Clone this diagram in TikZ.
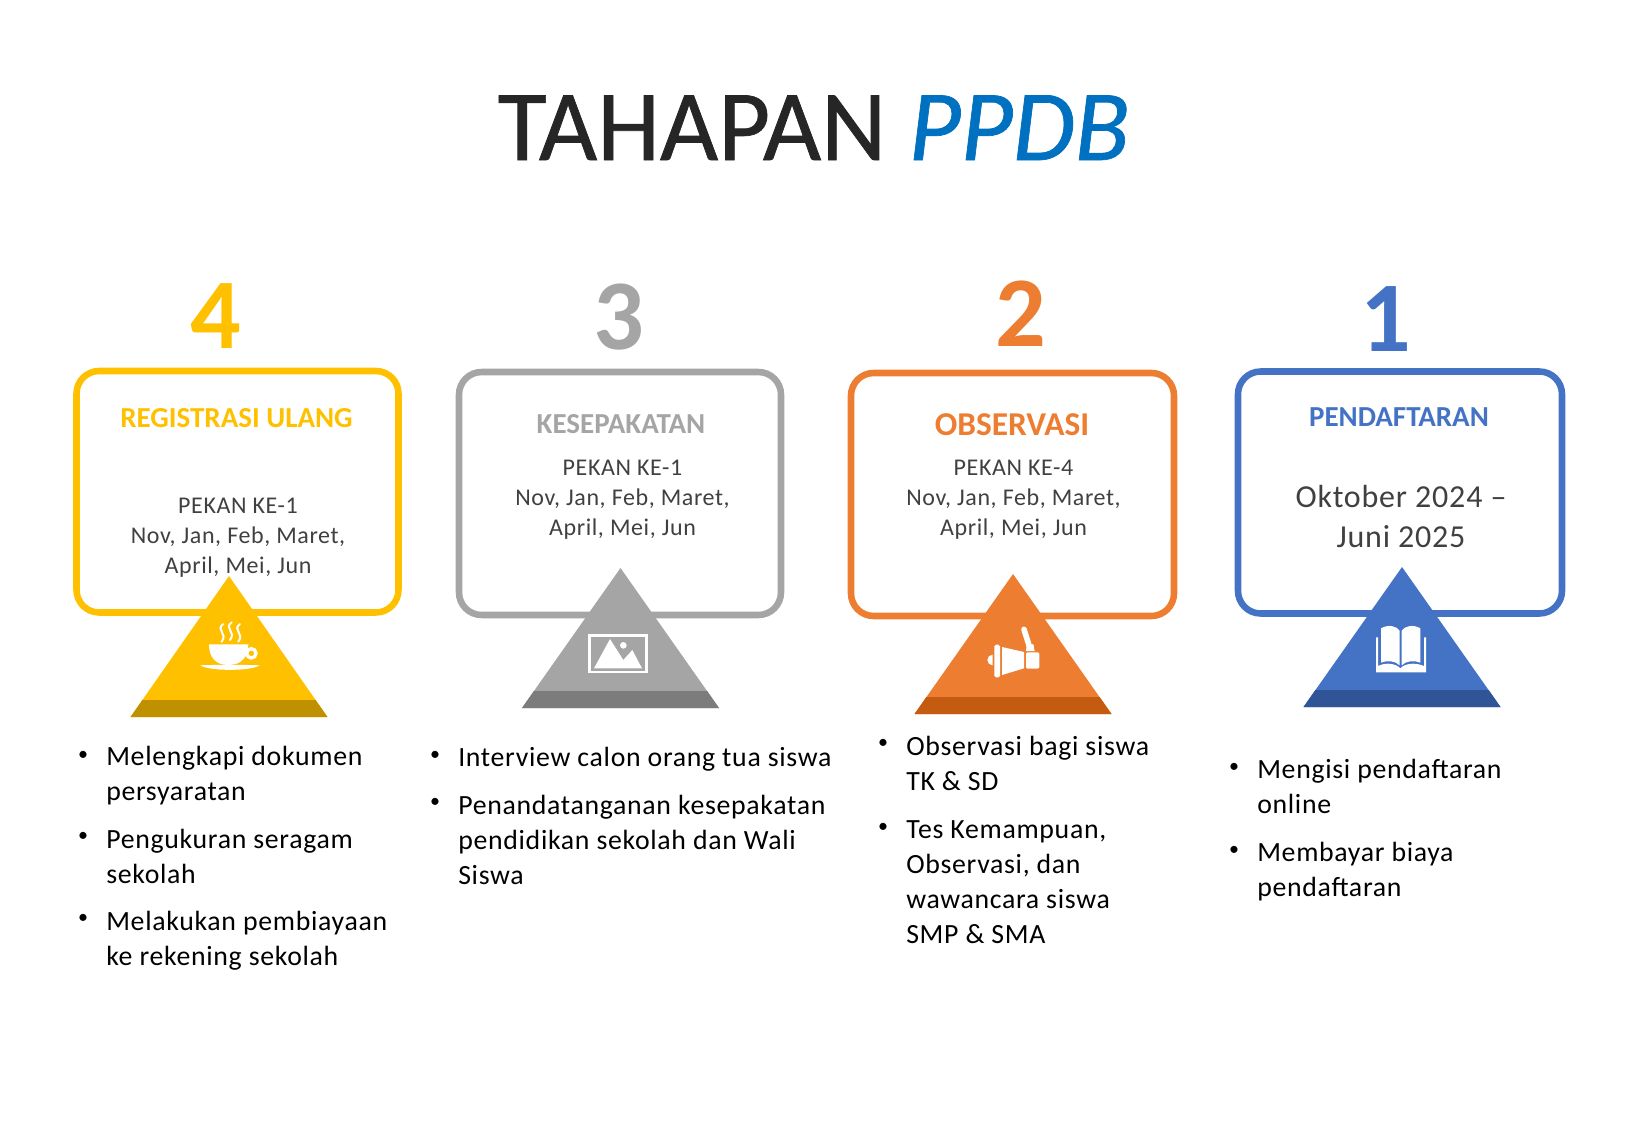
\documentclass[tikz,border=0pt]{standalone}
\usepackage{fontspec}
\setmainfont{Carlito}
\newfontfamily\spaced[LetterSpace=2.5]{Carlito}
\newfontfamily\titlef[FakeBold=0.7]{Carlito}
\definecolor{cy}{HTML}{FFC000}\definecolor{cyd}{HTML}{BF9000}
\definecolor{cg}{HTML}{A5A5A5}\definecolor{cgd}{HTML}{7C7C7C}
\definecolor{co}{HTML}{ED7D31}\definecolor{cod}{HTML}{C55A11}
\definecolor{cb}{HTML}{4472C4}\definecolor{cbd}{HTML}{2F5597}
\definecolor{txt}{HTML}{404040}\definecolor{ttl}{HTML}{262626}\definecolor{ppdb}{HTML}{0070C0}
\newcommand{\boxtri}[9]{% col, dark, x1,y1,x2,y2, apexx, apexy, (base y)
  \draw[card,draw=#1] (#3,#4) rectangle (#5,#6);
  \fill[#1] (#7,#8) -- (#7-98.5,#9) -- (#7+98.5,#9) -- cycle;
  \fill[#2] (#7-98.5,#9) -- (#7+98.5,#9) -- (#7+86.6,#9-17) -- (#7-86.6,#9-17) -- cycle;
}
\tikzset{
  card/.style={line width=4.9pt,rounded corners=17pt,fill=none},
  numlbl/.style={inner sep=0pt,anchor=center,font=\fontsize{75}{75}\selectfont\bfseries},
  headlbl/.style={inner sep=0pt,anchor=center,font=\fontsize{21.75}{24}\selectfont\bfseries},
  datelbl/.style={inner sep=0pt,align=center,anchor=base,text=txt,font=\spaced\fontsize{18}{22.35}\selectfont},
  itemlbl/.style={inner sep=0pt,align=left,anchor=base west,text=black,font=\spaced\fontsize{20.85}{26.25}\selectfont},
  bulletlbl/.style={inner sep=0pt,anchor=center,text=black,font=\fontsize{15}{16}\selectfont},
  icon/.style={fill=white,draw=none}
}
\begin{document}
\begin{tikzpicture}[x=0.75pt,y=-0.75pt]
\useasboundingbox (0,0) rectangle (1625,1125);
\node[inner sep=0pt,anchor=base,font=\titlef\fontsize{75.5}{80}\selectfont] (title) at (813.6,160) {\textcolor{ttl}{TAHAPAN} \textcolor{ppdb}{\itshape PPDB}};

\boxtri{cy}{cyd}{76.5}{371}{398.5}{612.5}{229}{576}{717}
\boxtri{cg}{cgd}{459}{372}{781}{615}{620.5}{568}{708}
\boxtri{co}{cod}{851}{373}{1174}{616}{1013}{574}{714}
\boxtri{cb}{cbd}{1238}{371.5}{1562}{613.5}{1402}{567}{707}

\node[numlbl,text=cy] (n4) at (215.5,316) {4};
\node[numlbl,text=cg] (n3) at (619,317) {3};
\node[numlbl,text=co] (n2) at (1020.5,314) {2};
\node[numlbl,text=cb] (n1) at (1386,319) {1};

\node[headlbl,text=cy] (h4) at (236.5,418) {REGISTRASI ULANG};
\node[headlbl,text=cg] (h3) at (621,424) {KESEPAKATAN};
\node[headlbl,text=co,font=\fontsize{25}{27}\selectfont\bfseries] (h2) at (1012,425) {OBSERVASI};
\node[headlbl,text=cb] (h1) at (1399,417) {PENDAFTARAN};

\node[datelbl] (d4) at (238,573) {PEKAN KE-1\\Nov, Jan, Feb, Maret,\\April, Mei, Jun};
\node[datelbl] (d3) at (622.5,535) {PEKAN KE-1\\Nov, Jan, Feb, Maret,\\April, Mei, Jun};
\node[datelbl] (d2) at (1013.5,535) {PEKAN KE-4\\Nov, Jan, Feb, Maret,\\April, Mei, Jun};
\node[datelbl,font=\spaced\fontsize{24}{30}\selectfont] (d1) at (1401,547) {Oktober 2024 –\\Juni 2025};

% bullets, column 4
\node[bulletlbl] (b41) at (83,755.5) {•};
\node[itemlbl] (t41) at (106,800) {Melengkapi dokumen\\persyaratan};
\node[bulletlbl] (b42) at (83,837.4) {•};
\node[itemlbl] (t42) at (106,883) {Pengukuran seragam\\sekolah};
\node[bulletlbl] (b43) at (83,919.3) {•};
\node[itemlbl] (t43) at (106,965) {Melakukan pembiayaan\\ke rekening sekolah};
% column 3
\node[bulletlbl] (b31) at (435,755.5) {•};
\node[itemlbl] (t31) at (458,766) {Interview calon orang tua siswa};
\node[bulletlbl] (b32) at (435,803.2) {•};
\node[itemlbl] (t32) at (458,884.5) {Penandatanganan kesepakatan\\pendidikan sekolah dan Wali\\Siswa};
% column 2
\node[bulletlbl] (b21) at (883,744.1) {•};
\node[itemlbl] (t21) at (906,790) {Observasi bagi siswa\\TK \& SD};
\node[bulletlbl] (b22) at (883,827.5) {•};
\node[itemlbl] (t22) at (906,943.6) {Tes Kemampuan,\\Observasi, dan\\wawancara siswa\\SMP \& SMA};
% column 1
\node[bulletlbl] (b11) at (1234,767.5) {•};
\node[itemlbl] (t11) at (1257,813) {Mengisi pendaftaran\\online};
\node[bulletlbl] (b12) at (1234,850.5) {•};
\node[itemlbl] (t12) at (1257,896) {Membayar biaya\\pendaftaran};

% cup
\begin{scope}[shift={(60,550)},x=0.25pt,y=-0.25pt]
  \draw[white,line width=2.5pt,fill=none] (574,310) circle (14);
  \fill[icon] (447,283) -- (565,283) .. controls (565,320) and (545,345) .. (505,345) .. controls (465,345) and (447,320) .. (447,283) -- cycle;
  \fill[icon] (420,346) .. controls (470,344) and (550,344) .. (600,346) .. controls (570,364) and (450,364) .. (420,346) -- cycle;
  \foreach \sx/\sy in {480/0,505/-5,530/0}
    \draw[white,line width=1.5pt,line cap=round,shift={(\sx,\sy)}] (10,222) .. controls (-15,240) and (25,250) .. (5,275);
\end{scope}
% picture
\begin{scope}[shift={(500,560)},x=0.25pt,y=-0.25pt]
  \draw[white,line width=2.1pt] (268,226) rectangle (439,336);
  \fill[icon] (282,325) -- (330,237) -- (370,300) -- (397,270) -- (426,325) -- cycle;
  \fill[icon] (370,256) circle (10);
\end{scope}
% megaphone
\begin{scope}[shift={(900,570)},x=0.25pt,y=-0.25pt]
  \fill[icon] (278,286) arc (90:270:16) -- cycle;
  \fill[icon,rounded corners=1.2pt] (283,224) rectangle (300,322);
  \fill[icon] (306,231) -- (372,246) -- (372,295) -- (306,315) -- cycle;
  \fill[icon,rounded corners=1pt] (378,247) rectangle (418,296);
  \draw[white,line width=4.2pt,line cap=round] (372,178) -- (389,232);
  \fill[icon] (380,228) -- (400,222) -- (404,243) -- (378,243) -- cycle;
\end{scope}
% book
\begin{scope}[shift={(1280,560)},x=0.25pt,y=-0.25pt]
  \fill[icon] (288,232) -- (294,232) -- (294,318) .. controls (320,305) and (350,312) .. (361,325) .. controls (372,312) and (402,305) .. (432,318) -- (432,232) -- (438,232) -- (438,337) -- (288,337) -- cycle;
  \fill[icon] (303,205) .. controls (325,192) and (350,198) .. (359,212) -- (359,316) .. controls (345,302) and (322,300) .. (303,308) -- cycle;
  \fill[icon] (421,205) .. controls (399,192) and (374,198) .. (365,212) -- (365,316) .. controls (379,302) and (402,300) .. (421,308) -- cycle;
\end{scope}
\end{tikzpicture}
\end{document}
